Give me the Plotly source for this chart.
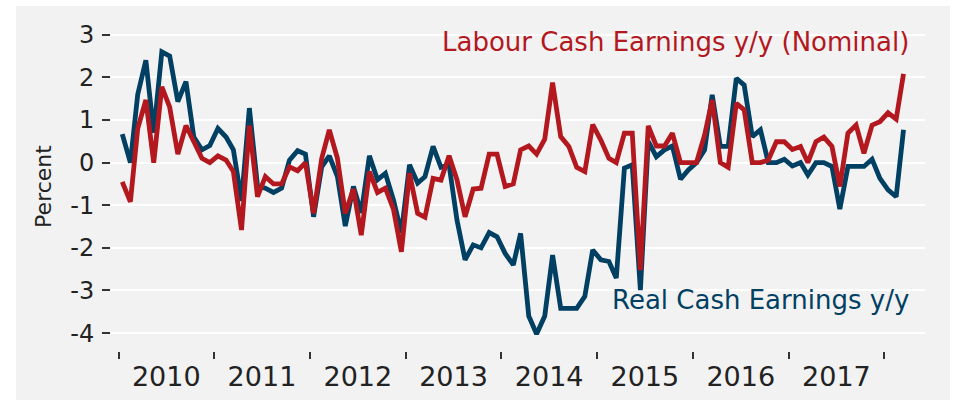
import pandas as pd
import plotly.graph_objects as go

# Monthly observations, Jan 2010 - Mar 2018
months = (pd.date_range("2010-01-01", periods=99, freq="MS") + pd.Timedelta(days=14))

nominal = [
    -0.45, -0.92, 0.80, 1.47, 0.00, 1.78, 1.30, 0.20, 0.87, 0.50, 0.10, 0.00,
    0.16, 0.06, -0.21, -1.58, 0.87, -0.80, -0.33, -0.50, -0.50, -0.10, -0.19, 0.00,
    -1.19, 0.10, 0.77, 0.10, -1.19, -0.62, -1.70, -0.21, -0.70, -0.60, -1.10, -2.09,
    -0.25, -1.19, -1.28, -0.37, -0.41, 0.16, -0.40, -1.27, -0.62, -0.60, 0.20, 0.20,
    -0.56, -0.50, 0.30, 0.39, 0.20, 0.55, 1.88, 0.61, 0.38, -0.11, -0.21, 0.89,
    0.53, 0.10, 0.00, 0.69, 0.69, -2.52, 0.86, 0.39, 0.39, 0.69, 0.00, 0.00,
    0.00, 0.65, 1.47, 0.00, -0.11, 1.39, 1.24, 0.00, 0.00, 0.06, 0.49, 0.49,
    0.31, 0.38, 0.00, 0.49, 0.60, 0.38, -0.56, 0.69, 0.88, 0.22, 0.88, 0.96,
    1.17, 1.02, 2.08,
]

real = [
    0.67, 0.00, 1.60, 2.40, 0.70, 2.60, 2.50, 1.43, 1.90, 0.60, 0.30, 0.40,
    0.80, 0.60, 0.30, -0.90, 1.28, -0.55, -0.60, -0.70, -0.60, 0.06, 0.28, 0.20,
    -1.27, -0.10, 0.16, -0.33, -1.49, -0.56, -1.18, 0.16, -0.40, -0.25, -0.88, -1.65,
    -0.05, -0.48, -0.33, 0.38, -0.11, -0.05, -1.34, -2.28, -1.93, -2.00, -1.64, -1.74,
    -2.13, -2.40, -1.66, -3.60, -4.02, -3.60, -2.17, -3.42, -3.42, -3.42, -3.14, -2.05,
    -2.28, -2.32, -2.71, -0.13, -0.05, -2.99, 0.50, 0.14, 0.30, 0.39, -0.39, -0.17,
    0.00, 0.30, 1.59, 0.38, 0.38, 1.98, 1.82, 0.61, 0.77, 0.00, 0.00, 0.08,
    -0.08, 0.00, -0.29, 0.00, 0.00, -0.09, -1.09, -0.09, -0.09, -0.09, 0.08, -0.37,
    -0.64, -0.80, 0.77,
]

years = list(range(2010, 2018))
year_labels = [str(y) for y in years]
y_ticks = [3, 2, 1, 0, -1, -2, -3, -4]
y_tick_labels = ["3", "2", "1", "0", "-1", "-2", "-3", "-4"]

BLUE = "#013f63"
RED = "#b3181f"
BG = "#f2f2f2"
FONT = "DejaVu Sans"

fig = go.Figure()
fig.add_trace(go.Scatter(x=months, y=real, mode="lines",
                         line=dict(color=BLUE, width=4.8), name="Real"))
fig.add_trace(go.Scatter(x=months, y=nominal, mode="lines",
                         line=dict(color=RED, width=4.8), name="Nominal"))

W, H = 965, 404
ml, mr, mt, mb = 111, 40, 22, 53
pw, ph = W - ml - mr, H - mt - mb

def px_x(p):
    return (p - ml) / pw

def px_y(p):
    return (H - mb - p) / ph

fig.add_shape(type="rect", xref="paper", yref="paper",
              x0=px_x(16), x1=px_x(950), y0=px_y(400), y1=px_y(6),
              fillcolor=BG, line=dict(width=0), layer="below")

fig.add_annotation(text="Labour Cash Earnings y/y (Nominal)", xref="paper", yref="paper",
                   x=px_x(911), y=px_y(42), xanchor="right", yanchor="middle",
                   showarrow=False, font=dict(family=FONT, size=26, color=RED))
fig.add_annotation(text="Real Cash Earnings y/y", xref="paper", yref="paper",
                   x=px_x(911), y=px_y(300), xanchor="right", yanchor="middle",
                   showarrow=False, font=dict(family=FONT, size=26, color=BLUE))

fig.update_layout(
    width=W, height=H,
    margin=dict(l=ml, r=mr, t=mt, b=mb),
    paper_bgcolor="white", plot_bgcolor=BG,
    showlegend=False,
    font=dict(family=FONT, color="#222222"),
    xaxis=dict(
        range=["2009-12-03", "2018-06-05"],
        automargin=False,
        tickmode="array",
        tickvals=[f"{y}-07-02" for y in years],
        ticktext=year_labels,
        ticks="", showgrid=False, zeroline=False, showline=False,
        tickfont=dict(family=FONT, size=27, color="#222222"),
        ticklabelstandoff=7,
        minor=dict(tickmode="array",
                   tickvals=[f"{y}-01-01" for y in range(2010, 2019)],
                   ticks="outside", ticklen=7, tickwidth=1.5, tickcolor="#333333",
                   showgrid=False),
    ),
    yaxis=dict(
        range=[-4.42, 3.30],
        automargin=False,
        tickmode="array", tickvals=y_ticks, ticktext=y_tick_labels,
        ticks="outside", ticklen=8, tickwidth=1.5, tickcolor="#333333",
        showgrid=True, gridcolor="white", gridwidth=2,
        zeroline=False, showline=False,
        tickfont=dict(family=FONT, size=24, color="#222222"),
        ticklabelstandoff=3,
        title=dict(text="Percent", font=dict(family=FONT, size=22, color="#222222"),
                   standoff=12),
    ),
)

fig.write_html("out.html",
               config={"displayModeBar": False},
               post_script="document.body.style.margin='0px';document.body.style.padding='0px';")
